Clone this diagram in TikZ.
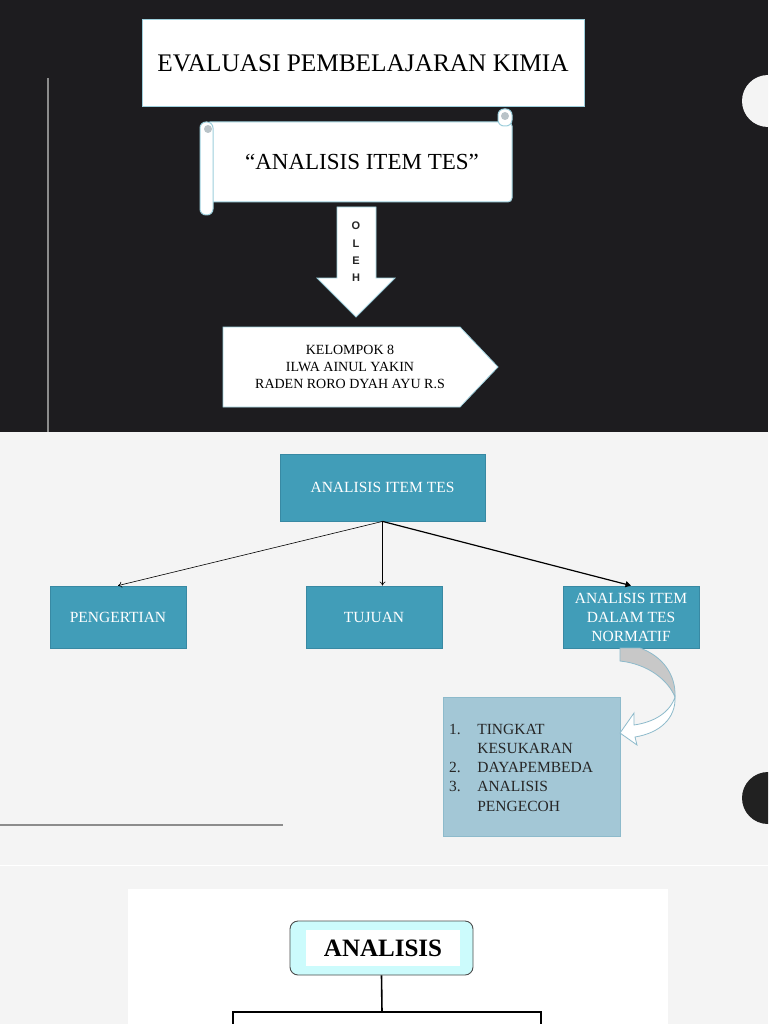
\documentclass[tikz,border=0pt]{standalone}
\usepackage{fontspec}
\setmainfont{Liberation Serif}
\newfontfamily\arialf{Liberation Sans}
\usetikzlibrary{arrows.meta}
\definecolor{darkbg}{HTML}{1D1C1F}
\definecolor{lightbg}{HTML}{F4F4F4}
\definecolor{bluefill}{HTML}{419DB8}
\definecolor{blueedge}{HTML}{3889A3}
\definecolor{listfill}{HTML}{A3C7D6}
\definecolor{listedge}{HTML}{8DBACB}
\definecolor{paleedge}{HTML}{9ECFDC}
\definecolor{rollgray}{HTML}{B9C3C8}
\definecolor{linegray}{HTML}{8C8C8C}
\definecolor{cyanfill}{HTML}{CCFBFC}
\definecolor{arrowgray}{HTML}{C8C8C8}
\tikzset{
  whitebox/.style={draw=paleedge, fill=white, line width=1pt, inner sep=0pt},
  bluebox/.style={draw=blueedge, fill=bluefill, line width=0.8pt, inner sep=0pt,
    minimum width=136pt, minimum height=62pt, text=white, align=center,
    font=\fontsize{15.5}{19}\selectfont},
  thinarrow/.style={draw=black, line width=0.6pt, -{To[length=4pt,width=6pt]}},
  thickarrow/.style={draw=black, line width=1.2pt, -{Triangle[length=5.5pt,width=6pt]}},
  treeline/.style={draw=black, line width=1.6pt},
}
\begin{document}
\begin{tikzpicture}[x=1pt,y=-1pt]
\useasboundingbox (0,0) rectangle (768,1024);
\clip (0,0) rectangle (768,1024);
% backgrounds
\fill[darkbg] (0,0) rectangle (768,432);
\fill[lightbg] (0,432) rectangle (768,1024);
\draw[white, line width=1.2pt] (0,865.5) -- (768,865.5);
\fill[white] (128,889) rectangle (668,1030);
% decorations
\draw[linegray, line width=2pt] (48,78) -- (48,432);
\fill[lightbg] (768,101) circle (26);
\fill[black!87] (768,798) circle (26);
\draw[linegray, line width=2pt] (0,825) -- (283,825);

% ---------- Slide 1 ----------
\node[whitebox, minimum width=442pt, minimum height=87pt,
  font=\fontsize{25.3}{30}\selectfont] (title) at (363,63.5) {EVALUASI PEMBELAJARAN KIMIA};

% scroll
\path[whitebox, draw=paleedge, line width=1pt, rounded corners=4pt]
  (206,122) -- (512,122) -- (512,202) -- (206,202) -- cycle;
\path[whitebox, rounded corners=6pt] (498,109) rectangle (512,126);
\fill[rollgray] (505,116) circle (4);
\path[whitebox, rounded corners=6pt] (200,122) rectangle (213,215);
\fill[rollgray] (208,129) circle (4);
\node[font=\fontsize{23}{27}\selectfont, inner sep=0pt] (scroll) at (362,162) {“ANALISIS ITEM TES”};

% down arrow
\path[whitebox, line width=0.8pt] (337,207) -- (376,207) -- (376,278) -- (395,278) -- (356,317)
  -- (317,278) -- (337,278) -- cycle;
\node[font=\arialf\bfseries\fontsize{11}{17.3}\selectfont, align=center, inner sep=0pt, text=black!85] (oleh) at (356,252)
  {O\\L\\E\\H};

% pentagon
\path[whitebox, line width=0.8pt] (223,327) -- (460,327) -- (498,367) -- (460,407) -- (223,407) -- cycle;
\node[font=\fontsize{14}{16.8}\selectfont, align=center, inner sep=0pt] (kel) at (350,367)
  {KELOMPOK 8\\ILWA AINUL YAKIN\\RADEN RORO DYAH AYU R.S};

% ---------- Slide 2 ----------
\node[bluebox, minimum width=205pt, minimum height=67pt] (ait) at (382.5,487.5) {ANALISIS ITEM TES};
\node[bluebox] (peng) at (118,617) {PENGERTIAN};
\node[bluebox] (tuj) at (374,617) {TUJUAN};
\node[bluebox] (norm) at (631,617) {ANALISIS ITEM\\DALAM TES\\NORMATIF};

\draw[thinarrow] (ait.south) -- (peng.north);
\draw[thinarrow] (ait.south) -- (ait.south |- tuj.north);
\draw[thickarrow] (ait.south) -- (norm.north);

\node[draw=listedge, fill=listfill, line width=0.8pt, minimum width=177pt, minimum height=139pt,
  inner sep=0pt] (list) at (531.5,766.5) {};
\node[anchor=base west, inner sep=0pt, font=\fontsize{15.5}{19.3}\selectfont, text=black!85]
  (listtext) at (449,734)
  {\begin{tabular}[t]{@{}l@{\hspace{16.5pt}}l@{}}
   1. & TINGKAT\\
      & KESUKARAN\\
   2. & DAYAPEMBEDA\\
   3. & ANALISIS\\
      & PENGECOH
   \end{tabular}};

% curved block arrow
\path[draw=listedge, fill=arrowgray, line width=0.8pt]
  (620,648) -- (640,648) .. controls (662,656) and (676,674) .. (675,697)
  .. controls (668,680) and (648,664) .. (620,661) -- cycle;
\path[draw=listedge, fill=white, line width=0.8pt]
  (675,697) .. controls (676,718) and (660,733) .. (635,737)
  -- (637,745) -- (620,733) -- (634,713) -- (634,725)
  .. controls (655,722) and (670,712) .. (675,697) -- cycle;

% ---------- Slide 3 ----------
\node[draw=black!70, fill=cyanfill, rounded corners=8pt, line width=0.9pt,
  minimum width=183pt, minimum height=54pt, inner sep=0pt] (anl) at (381.5,948) {};
\node[fill=white, minimum width=154pt, minimum height=36pt, inner sep=0pt,
  font=\bfseries\fontsize{25}{29}\selectfont] (anltext) at (383,948) {ANALISIS};
\coordinate (jn) at (382,1012);
\coordinate (lb) at (233,1030);
\coordinate (rb) at (541,1030);
\draw[treeline] (anl.south) -- (jn);
\draw[treeline] (lb) |- (jn) -| (rb);
\end{tikzpicture}
\end{document}
